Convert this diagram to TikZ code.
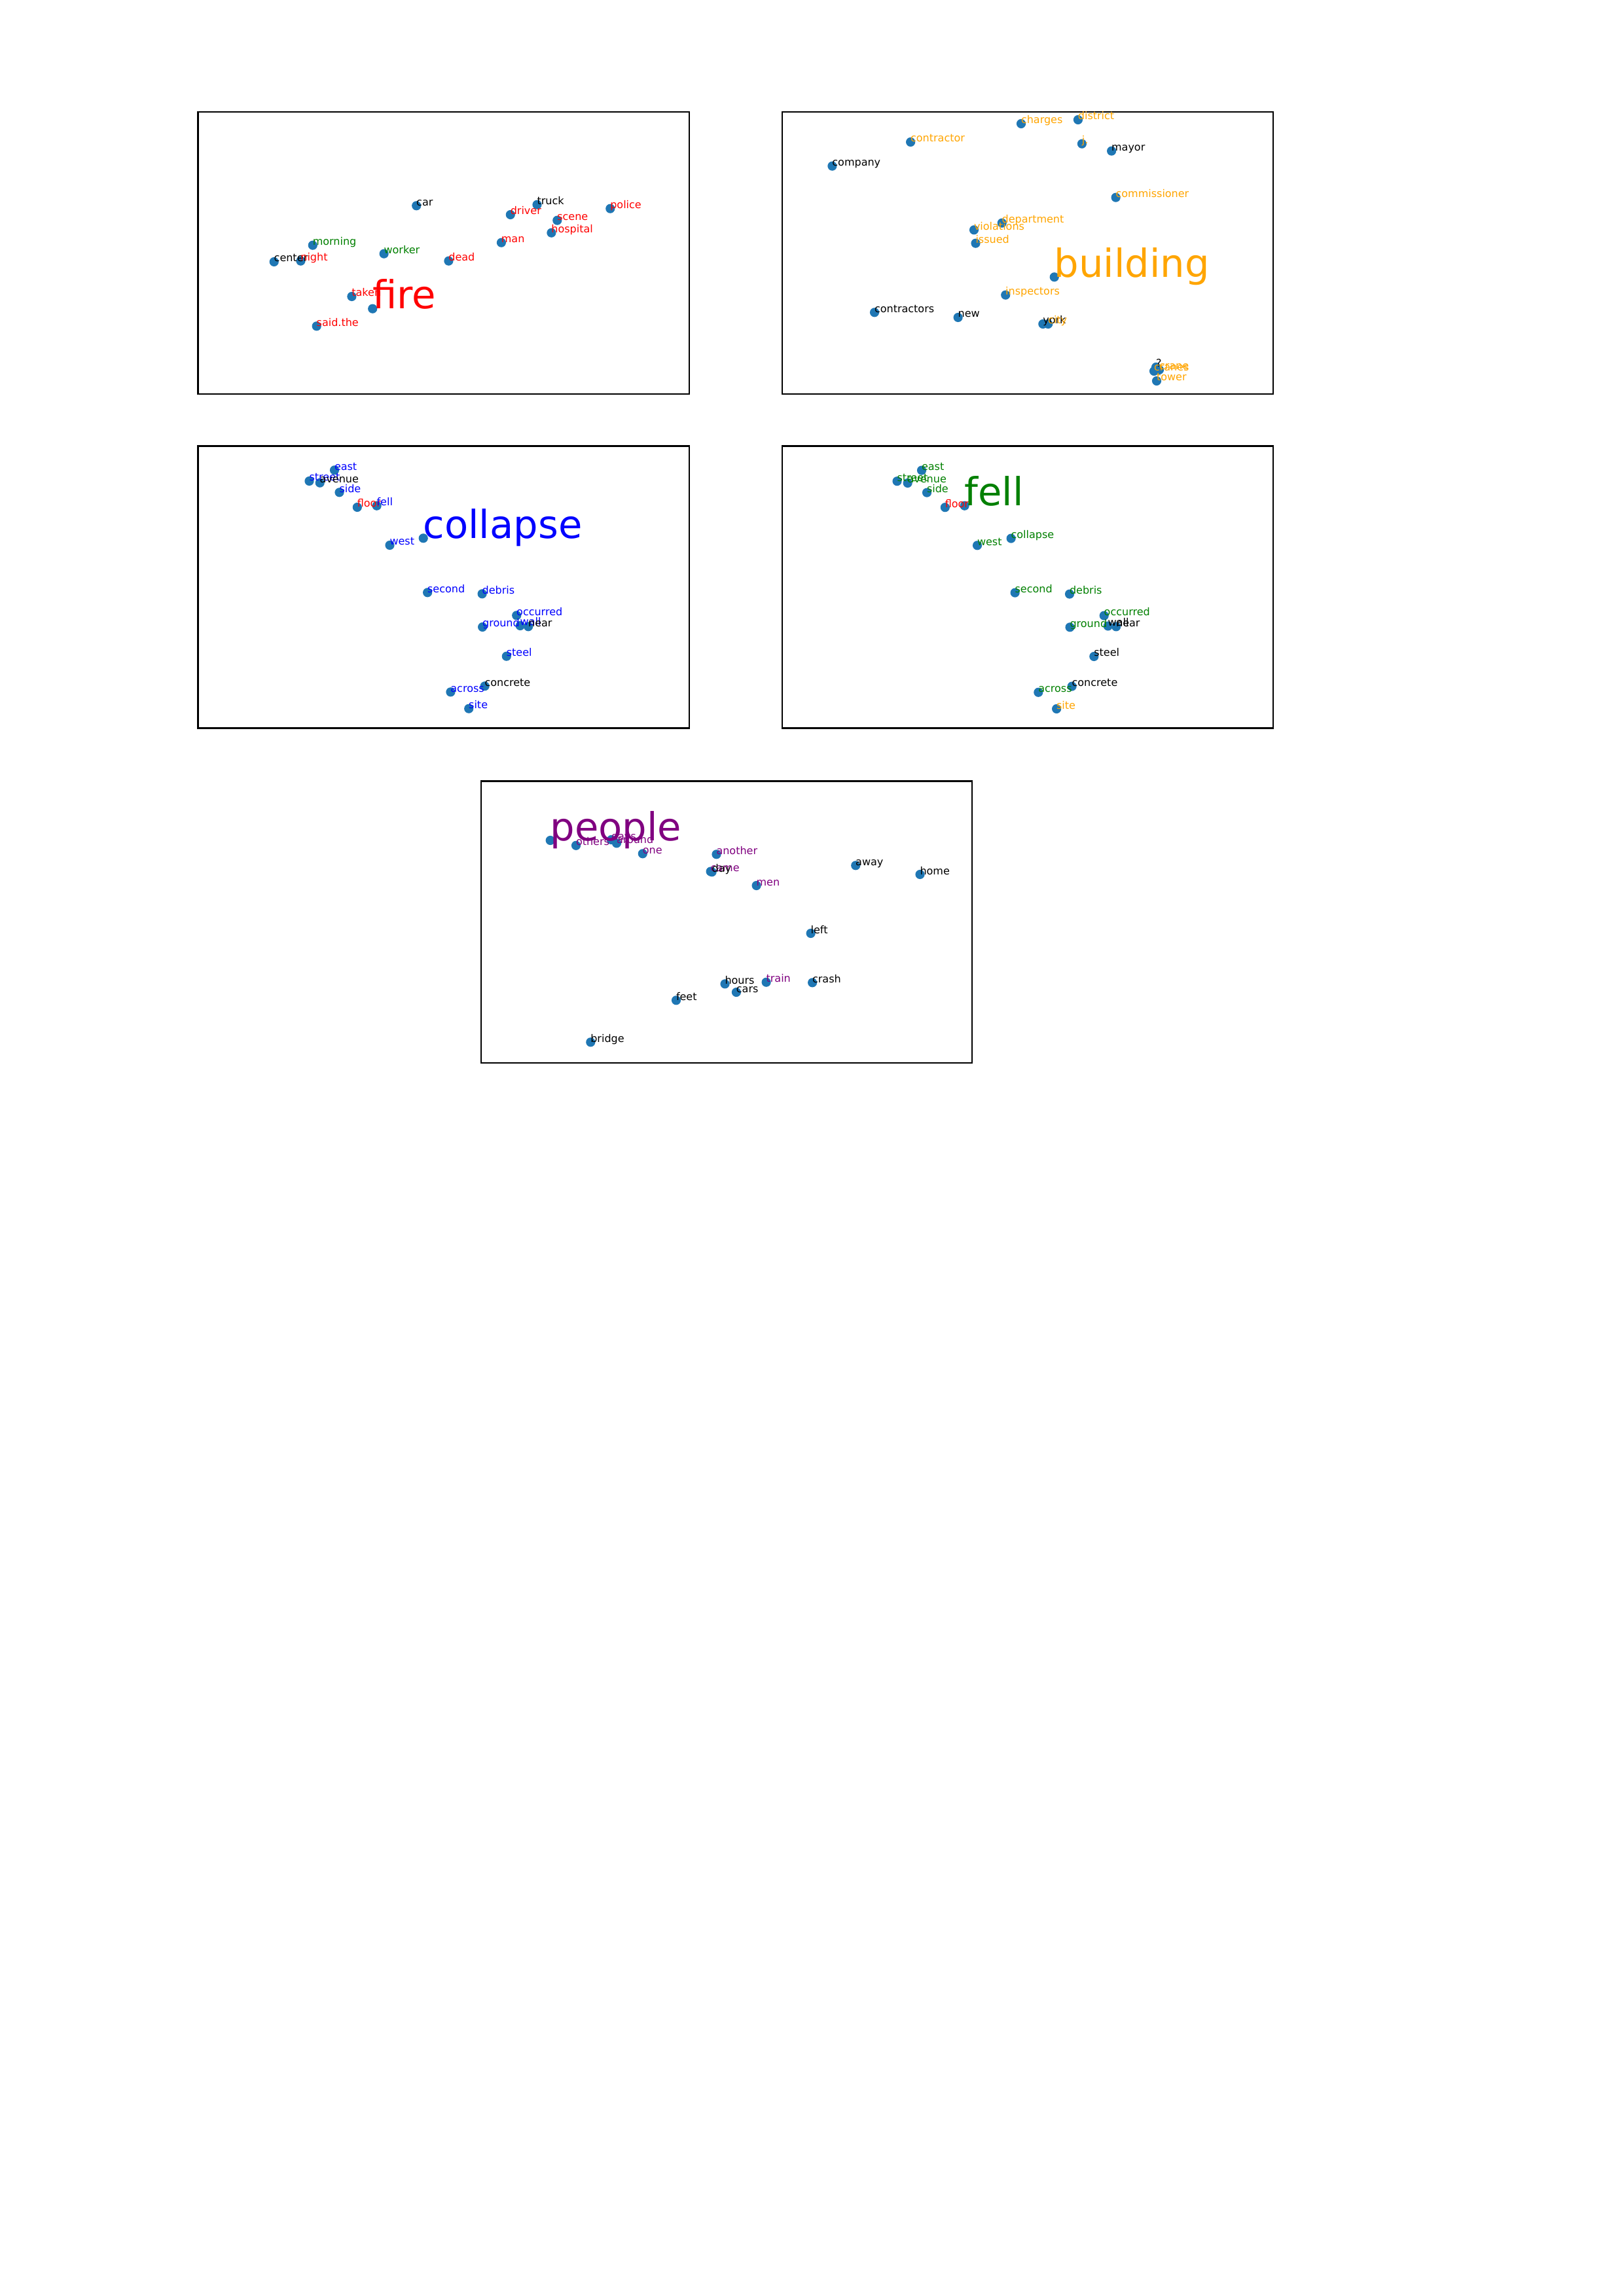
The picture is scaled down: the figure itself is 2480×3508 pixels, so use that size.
\documentclass[tikz,border=0pt]{standalone}
\usepackage{fontspec}
\setmainfont{DejaVu Sans}
\definecolor{dotblue}{HTML}{1F77B4}
\definecolor{mplgreen}{HTML}{008000}
\definecolor{mplorange}{HTML}{FFA500}
\definecolor{mplpurple}{HTML}{800080}
\newcommand\wdot[3]{\node[dot] (#1) at (#2,#3) {};}
\newcommand\wlab[3]{\node[lab,text=#2] (t#1) at (#1.center) {#3};}
\newcommand\wbig[3]{\node[biglab,text=#2] (t#1) at (#1.center) {#3};}
\begin{document}
\begin{tikzpicture}[x=0.24pt,y=-0.24pt,
  dot/.style={circle,fill=dotblue,draw=none,inner sep=0pt,minimum size=3.4pt},
  lab/.style={anchor=base west,inner sep=0pt,outer sep=0pt,font=\fontsize{3.84pt}{4.6pt}\selectfont},
  biglab/.style={anchor=base west,inner sep=0pt,outer sep=0pt,font=\fontsize{14.2pt}{17pt}\selectfont},
  frame/.style={draw=black,line width=0.53pt,fill=none}]
\useasboundingbox[fill=white] (0,0) rectangle (2480,3508);
% frames
\draw[frame] (302.5,171) rectangle (1053,602);
\draw[frame] (1195,171) rectangle (1945,602);
\draw[frame] (302.5,681.5) rectangle (1053,1112.5);
\draw[frame] (1195,681.5) rectangle (1945,1112.5);
\draw[frame] (735,1193.5) rectangle (1485,1624);
% ---------- panel 1 : fire ----------
\wdot{aCar}{636.2}{314.3}
\wdot{aTruck}{820.5}{312.7}
\wdot{aPolice}{932.3}{318.7}
\wdot{aDriver}{779.8}{328}
\wdot{aScene}{851.3}{336.7}
\wdot{aHospital}{842.4}{355.7}
\wdot{aMan}{765.9}{370.7}
\wdot{aMorning}{477.8}{374.7}
\wdot{aWorker}{586.6}{387.7}
\wdot{aCenter}{418.7}{400}
\wdot{aNight}{459.4}{398.7}
\wdot{aDead}{685.4}{398.7}
\wdot{aTaken}{537.4}{453}
\wdot{aFire}{569.2}{471.7}
\wdot{aSaid}{483.7}{498.3}
\wlab{aCar}{black}{car}
\wlab{aTruck}{black}{truck}
\wlab{aPolice}{red}{police}
\wlab{aDriver}{red}{driver}
\wlab{aScene}{red}{scene}
\wlab{aHospital}{red}{hospital}
\wlab{aMan}{red}{man}
\wlab{aMorning}{mplgreen}{morning}
\wlab{aWorker}{mplgreen}{worker}
\wlab{aCenter}{black}{center}
\wlab{aNight}{red}{night}
\wlab{aDead}{red}{dead}
\wlab{aTaken}{red}{taken}
\wbig{aFire}{red}{fire}
\wlab{aSaid}{red}{said.the}
% ---------- panel 2 : building ----------
\wdot{bCharges}{1560}{189}
\wdot{bDistrict}{1646.9}{183}
\wdot{bContractor}{1391.1}{217}
\wdot{bJ}{1652.9}{219.7}
\wdot{bMayor}{1698.1}{230.7}
\wdot{bCompany}{1271.4}{253.7}
\wdot{bCommissioner}{1704.6}{301.7}
\wdot{bDepartment}{1530.7}{340.7}
\wdot{bViolations}{1488}{351.3}
\wdot{bIssued}{1490.5}{371.7}
\wdot{bBuilding}{1610.7}{423.3}
\wdot{bInspectors}{1536.2}{450.7}
\wdot{bContractors}{1336}{477.3}
\wdot{bNew}{1463.6}{485}
\wdot{bYork}{1593.3}{495}
\wdot{bCity}{1601.2}{495}
\wdot{bQ}{1766}{561}
\wdot{bCranes}{1763}{567}
\wdot{bCrane}{1771}{565}
\wdot{bTower}{1767}{582}
\wlab{bCharges}{mplorange}{charges}
\wlab{bDistrict}{mplorange}{district}
\wlab{bContractor}{mplorange}{contractor}
\wlab{bJ}{mplorange}{j.}
\wlab{bMayor}{black}{mayor}
\wlab{bCompany}{black}{company}
\wlab{bCommissioner}{mplorange}{commissioner}
\wlab{bDepartment}{mplorange}{department}
\wlab{bViolations}{mplorange}{violations}
\wlab{bIssued}{mplorange}{issued}
\wbig{bBuilding}{mplorange}{building}
\wlab{bInspectors}{mplorange}{inspectors}
\wlab{bContractors}{black}{contractors}
\wlab{bNew}{black}{new}
\wlab{bYork}{black}{york}
\wlab{bCity}{mplorange}{city}
\wlab{bQ}{black}{?}
\wlab{bCranes}{mplorange}{cranes}
\wlab{bCrane}{mplorange}{crane}
\wlab{bTower}{mplorange}{tower}
% ---------- panel 3 : collapse ----------
\wdot{cEast}{511}{718.3}
\wdot{cStreet}{472.5}{735}
\wdot{cAvenue}{488.7}{737.7}
\wdot{cSide}{518.5}{752.3}
\wdot{cFloor}{545.8}{775}
\wdot{cFell}{575.6}{772.7}
\wdot{cCollapse}{646.7}{822.3}
\wdot{cWest}{595.5}{833}
\wdot{cSecond}{653.1}{905.3}
\wdot{cDebris}{736.6}{907.3}
\wdot{cOccurred}{789.2}{940.3}
\wdot{cGround}{737.1}{958}
\wdot{cWall}{794.7}{956}
\wdot{cNear}{807.1}{957.3}
\wdot{cSteel}{773.8}{1002.7}
\wdot{cConcrete}{740.6}{1048.3}
\wdot{cAcross}{688.4}{1057.3}
\wdot{cSite}{716.2}{1082.7}
\wlab{cEast}{blue}{east}
\wlab{cStreet}{blue}{street}
\wlab{cAvenue}{black}{avenue}
\wlab{cSide}{blue}{side}
\wlab{cFloor}{red}{floor}
\wlab{cFell}{blue}{fell}
\wbig{cCollapse}{blue}{collapse}
\wlab{cWest}{blue}{west}
\wlab{cSecond}{blue}{second}
\wlab{cDebris}{blue}{debris}
\wlab{cOccurred}{blue}{occurred}
\wlab{cGround}{blue}{ground}
\wlab{cWall}{blue}{wall}
\wlab{cNear}{black}{near}
\wlab{cSteel}{blue}{steel}
\wlab{cConcrete}{black}{concrete}
\wlab{cAcross}{blue}{across}
\wlab{cSite}{blue}{site}
% ---------- panel 4 : fell ----------
\wdot{dEast}{1408}{718.6}
\wdot{dStreet}{1370.5}{735.2}
\wdot{dAvenue}{1386.6}{738}
\wdot{dSide}{1416}{752.6}
\wdot{dFloor}{1443.8}{775.2}
\wdot{dFell}{1473.6}{772.7}
\wdot{dCollapse}{1544.6}{822.6}
\wdot{dWest}{1493}{833.3}
\wdot{dSecond}{1550.6}{905.6}
\wdot{dDebris}{1634}{907.6}
\wdot{dOccurred}{1686.7}{940.6}
\wdot{dGround}{1634.5}{958.3}
\wdot{dWall}{1692.7}{956.5}
\wdot{dNear}{1705.1}{957.4}
\wdot{dSteel}{1671.3}{1003}
\wdot{dConcrete}{1637.6}{1048.6}
\wdot{dAcross}{1586.3}{1057.8}
\wdot{dSite}{1614.1}{1083}
\wlab{dEast}{mplgreen}{east}
\wlab{dStreet}{mplgreen}{street}
\wlab{dAvenue}{mplgreen}{avenue}
\wlab{dSide}{mplgreen}{side}
\wlab{dFloor}{red}{floor}
\wbig{dFell}{mplgreen}{fell}
\wlab{dCollapse}{mplgreen}{collapse}
\wlab{dWest}{mplgreen}{west}
\wlab{dSecond}{mplgreen}{second}
\wlab{dDebris}{mplgreen}{debris}
\wlab{dOccurred}{mplgreen}{occurred}
\wlab{dGround}{mplgreen}{ground}
\wlab{dWall}{black}{wall}
\wlab{dNear}{black}{near}
\wlab{dSteel}{black}{steel}
\wlab{dConcrete}{black}{concrete}
\wlab{dAcross}{mplgreen}{across}
\wlab{dSite}{mplorange}{site}
% ---------- panel 5 : people ----------
\wdot{ePeople}{840.7}{1284}
\wdot{eOthers}{880}{1291.8}
\wdot{eDays}{934}{1283}
\wdot{eAround}{942}{1288.3}
\wdot{eOne}{981.8}{1304.3}
\wdot{eAnother}{1094.5}{1305.3}
\wdot{eCame}{1085.6}{1331.5}
\wdot{eDay}{1087.6}{1332.3}
\wdot{eMen}{1155.6}{1353}
\wdot{eAway}{1307.2}{1322.3}
\wdot{eHome}{1405.5}{1336}
\wdot{eLeft}{1238.6}{1426}
\wdot{eHours}{1107.5}{1503.3}
\wdot{eTrain}{1170.6}{1500.7}
\wdot{eCrash}{1241.1}{1501.3}
\wdot{eCars}{1124.9}{1516}
\wdot{eFeet}{1033}{1528.3}
\wdot{eBridge}{902.3}{1592.3}
\wbig{ePeople}{mplpurple}{people}
\wlab{eOthers}{mplpurple}{others}
\wlab{eDays}{mplpurple}{days}
\wlab{eAround}{mplpurple}{around}
\wlab{eOne}{mplpurple}{one}
\wlab{eAnother}{mplpurple}{another}
\wlab{eCame}{mplpurple}{came}
\wlab{eDay}{black}{day}
\wlab{eMen}{mplpurple}{men}
\wlab{eAway}{black}{away}
\wlab{eHome}{black}{home}
\wlab{eLeft}{black}{left}
\wlab{eHours}{black}{hours}
\wlab{eTrain}{mplpurple}{train}
\wlab{eCrash}{black}{crash}
\wlab{eCars}{black}{cars}
\wlab{eFeet}{black}{feet}
\wlab{eBridge}{black}{bridge}
\end{tikzpicture}
\end{document}
